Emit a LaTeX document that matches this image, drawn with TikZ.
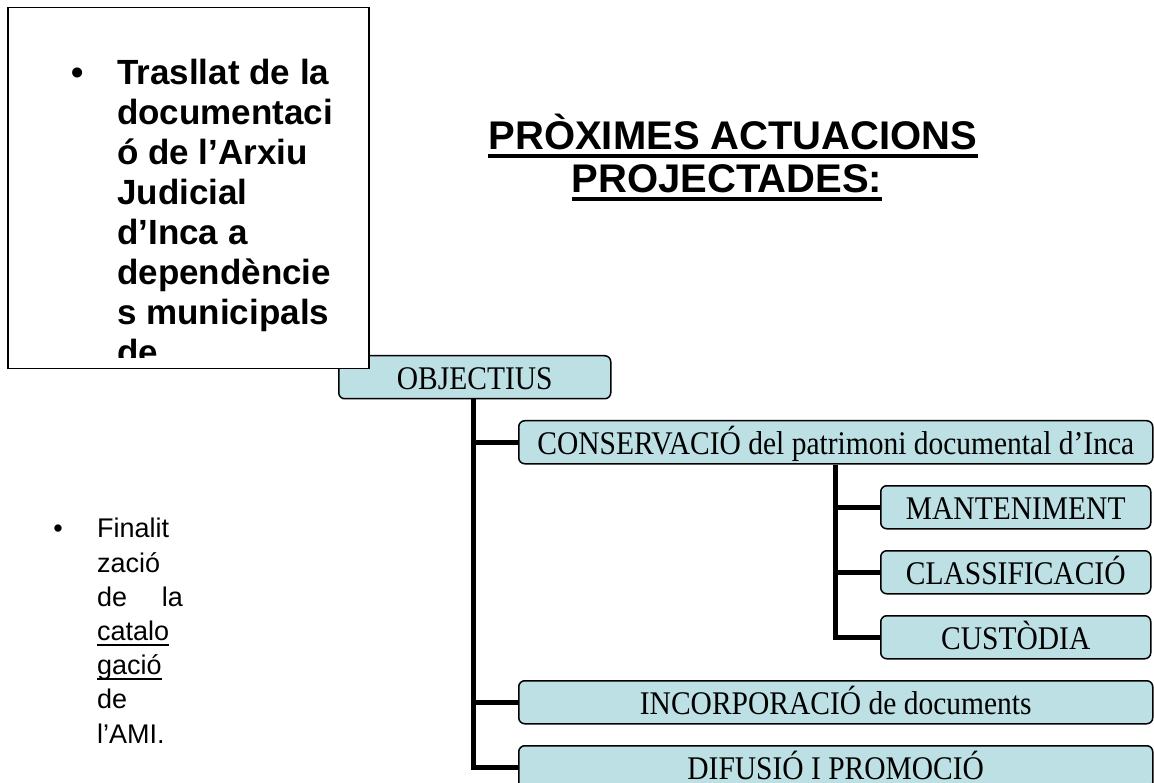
\documentclass[tikz,border=0pt]{standalone}
\usepackage{fontspec}
\usepackage{graphicx}
\setmainfont{Liberation Serif}
\newfontfamily\arialf{Liberation Sans}
\definecolor{boxblue}{RGB}{188,224,228}
\newcommand\talltxt[1]{\scalebox{1}[1.12]{#1}}
\begin{document}
\begin{tikzpicture}[x=1pt,y=-1pt,
  obox/.style={draw=black, line width=1.5pt, fill=boxblue, rounded corners=6pt,
    minimum height=43pt, inner sep=0pt, anchor=north west,
    text height=27pt, text depth=2pt,
    font=\fontsize{29.5}{30}\selectfont},
  conn/.style={line width=5pt},
  bigtxt/.style={inner sep=0pt, anchor=base west, font=\arialf\bfseries\fontsize{35}{40}\selectfont},
  smalltxt/.style={inner sep=0pt, anchor=base west, font=\arialf\fontsize{27}{34}\selectfont},
  titletxt/.style={inner sep=0pt, anchor=base, font=\arialf\bfseries\fontsize{40}{43}\selectfont},
  ]
\useasboundingbox (0,0) rectangle (1154,783);
\fill[white] (0,0) rectangle (1154,783);

% title
\node[titletxt] (t1) at (733,150) {PRÒXIMES ACTUACIONS};
\node[titletxt] (t2) at (727,193) {PROJECTADES:};
\draw[line width=3.5pt] ([yshift=-6pt]t1.base west) -- ([yshift=-6pt]t1.base east);
\draw[line width=3.5pt] ([yshift=-6pt]t2.base west) -- ([yshift=-6pt]t2.base east);

% boxes
\node[obox, minimum width=272pt] (obj) at (338,355) {\talltxt{OBJECTIUS}};
\node[obox, minimum width=634pt] (cons) at (518,420) {\talltxt{CONSERVACIÓ del patrimoni documental d’Inca}};
\node[obox, minimum width=270pt] (mant) at (880,485) {\talltxt{MANTENIMENT}};
\node[obox, minimum width=270pt] (clas) at (880,550) {\talltxt{CLASSIFICACIÓ}\hspace{16pt}};
\node[obox, minimum width=270pt] (cust) at (880,615) {\talltxt{CUSTÒDIA}};
\node[obox, minimum width=634pt] (inc) at (518,680) {\talltxt{INCORPORACIÓ de documents}};
\node[obox, minimum width=634pt] (dif) at (518,745) {\talltxt{DIFUSIÓ I PROMOCIÓ}};

% connectors
\coordinate (trunk) at ([xshift=-1pt]obj.south);
\draw[conn] (trunk) |- (dif.west);
\draw[conn] (trunk |- cons.west) -- (cons.west);
\draw[conn] (trunk |- inc.west) -- (inc.west);
\draw[conn] (cons.south) |- (cust.west);
\draw[conn] (cons.south |- mant.west) -- (mant.west);
\draw[conn] (cons.south |- clas.west) -- (clas.west);

% big text box
\node[draw=black, fill=white, line width=1.5pt, minimum width=361pt, minimum height=361pt,
  anchor=north west, inner sep=0pt] (bigbox) at (7,7) {};
\node[inner sep=0pt, anchor=base, font=\arialf\bfseries\fontsize{35}{40}\selectfont] (b1) at (78,85) {•};
\begin{scope}
\clip (8,8) rectangle (367,358);
\node[bigtxt] (l1) at (117,85) {Trasllat de la};
\node[bigtxt] (l2) at (117,125) {documentaci};
\node[bigtxt] (l3) at (117,165) {ó de l’Arxiu};
\node[bigtxt] (l4) at (117,205) {Judicial};
\node[bigtxt] (l5) at (117,245) {d’Inca a};
\node[bigtxt] (l6) at (117,285) {dependèncie};
\node[bigtxt] (l7) at (117,325) {s municipals};
\node[bigtxt] (l8) at (117,365) {de};
\end{scope}

% second list
\node[inner sep=0pt, anchor=base, font=\arialf\fontsize{27}{34}\selectfont] (b2) at (58,537) {•};
\node[smalltxt] (m1) at (97,537) {Finalit};
\node[smalltxt] (m2) at (97,572) {zació};
\node[smalltxt] (m3) at (97,606) {de};
\node[smalltxt, anchor=base east] (m3b) at (183,606) {la};
\node[smalltxt] (m4) at (97,640) {catalo};
\node[smalltxt] (m5) at (97,674) {gació};
\node[smalltxt] (m6) at (97,708) {de};
\node[smalltxt] (m7) at (97,743) {l’AMI.};
\draw[line width=2pt] ([yshift=-5pt]m4.base west) -- ([yshift=-5pt]m4.base east);
\draw[line width=2pt] ([yshift=-5pt]m5.base west) -- ([yshift=-5pt]m5.base east);
\end{tikzpicture}
\end{document}
